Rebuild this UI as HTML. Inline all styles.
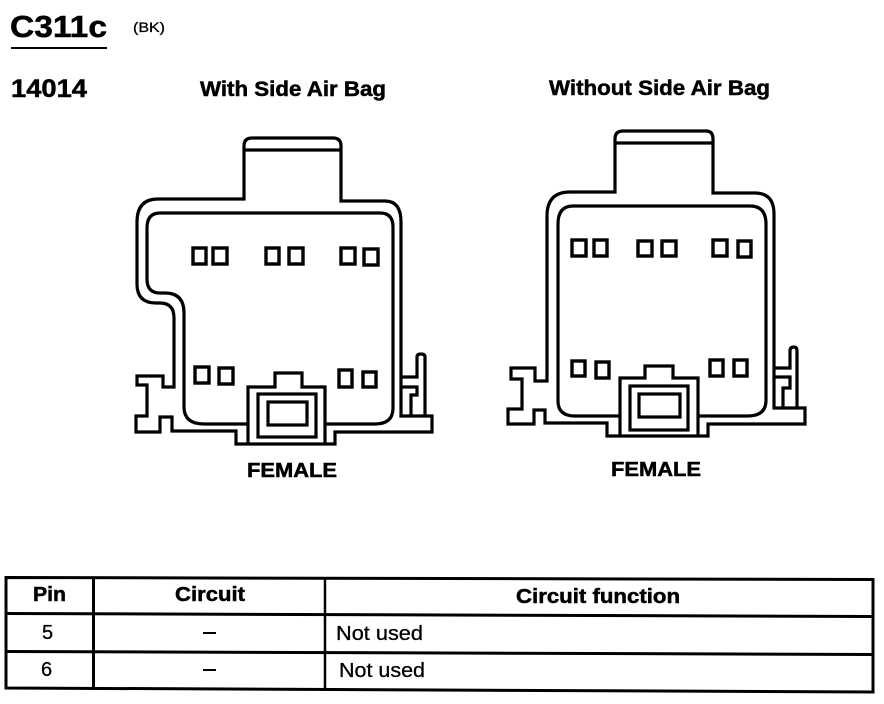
<!DOCTYPE html>
<html><head><meta charset="utf-8"><style>
html,body{margin:0;padding:0;background:#fff;width:884px;height:704px;overflow:hidden}
svg{display:block}
text{font-family:"Liberation Sans",sans-serif;fill:#000;stroke:#000;stroke-width:.3}
.b{font-weight:bold;stroke-width:.5}
.l{fill:none;stroke:#000;stroke-width:3.2}
.p{fill:none;stroke:#000;stroke-width:3.4}
</style></head><body>
<svg width="884" height="704" viewBox="0 0 884 704" xmlns="http://www.w3.org/2000/svg">
<text class="b" x="10" y="37" font-size="31" textLength="97" lengthAdjust="spacingAndGlyphs">C311c</text>
<rect x="11" y="47" width="96" height="2"/>
<text x="133" y="32" font-size="14" textLength="32" lengthAdjust="spacingAndGlyphs">(BK)</text>
<text class="b" x="11" y="97" font-size="25" textLength="76" lengthAdjust="spacingAndGlyphs">14014</text>
<text class="b" x="200" y="96" font-size="21" textLength="186" lengthAdjust="spacingAndGlyphs">With Side Air Bag</text>
<text class="b" x="549" y="95" font-size="21" textLength="221" lengthAdjust="spacingAndGlyphs">Without Side Air Bag</text>

<!-- left connector -->
<path class="l" d="M244 199V146Q244 138 252 138H333Q341 138 341 146V201H385Q401 201 401 222V416H432V432H335V444H236V431H172V417H160V432H136V416H147V385H137V376H163V387H174V318Q174 303 160 303H156Q137 303 137 284V222Q137 199 158 199Z"/>
<path class="l" d="M244 150H341"/>
<path class="l" d="M248 424H204Q184 424 184 407V313Q184 293 165 293H160Q147 293 147 279V228Q147 213 160 213H380Q393 213 393 227V408Q393 424 375 424H325"/>
<path class="l" d="M401 377H417V357Q417 354 421 354Q425 354 425 357V416M401 387H417V395H411V416"/>
<path class="l" d="M248 443V387H275V373H302V387H325V443"/>
<rect class="l" x="258" y="394" width="58" height="43"/>
<rect class="l" x="268" y="402" width="39" height="23"/>
<rect class="p" x="193" y="248" width="13" height="16"/><rect class="p" x="213" y="248" width="14" height="16"/>
<rect class="p" x="266" y="248" width="13" height="16"/><rect class="p" x="289" y="248" width="14" height="16"/>
<rect class="p" x="341" y="248" width="14" height="16"/><rect class="p" x="364" y="249" width="14" height="16"/>
<rect class="p" x="195" y="367" width="14" height="16"/><rect class="p" x="219" y="368" width="14" height="16"/>
<rect class="p" x="339" y="370" width="13" height="17"/><rect class="p" x="363" y="372" width="13" height="15"/>

<!-- right connector -->
<path class="l" d="M615 192V139Q615 131 623 131H706Q713 131 713 139V193H755Q774 193 774 214V408H805V424H708V436H607V423H545V410H534V424H508V409H522V379H511V368H535V381H547V216Q547 192 570 192Z"/>
<path class="l" d="M615 143H713"/>
<path class="l" d="M620 416H575Q558 416 558 401V224Q558 206 573 206H750Q766 206 766 224V400Q766 416 748 416H698"/>
<path class="l" d="M774 368H790V351Q790 347 794 347Q797 347 797 351V408M774 377H790V388H783V408"/>
<path class="l" d="M620 436V378H645V366H673V378H698V436"/>
<rect class="l" x="630" y="386" width="58" height="44"/>
<rect class="l" x="639" y="394" width="41" height="23"/>
<rect class="p" x="572" y="240" width="14" height="16"/><rect class="p" x="594" y="240" width="13" height="16"/>
<rect class="p" x="638" y="241" width="14" height="15"/><rect class="p" x="662" y="241" width="14" height="15"/>
<rect class="p" x="713" y="240" width="14" height="16"/><rect class="p" x="738" y="241" width="13" height="16"/>
<rect class="p" x="572" y="361" width="13" height="15"/><rect class="p" x="596" y="362" width="13" height="16"/>
<rect class="p" x="710" y="360" width="13" height="16"/><rect class="p" x="734" y="360" width="13" height="16"/>

<text class="b" x="247" y="477" font-size="20" textLength="90" lengthAdjust="spacingAndGlyphs">FEMALE</text>
<text class="b" x="611" y="476" font-size="20" textLength="90" lengthAdjust="spacingAndGlyphs">FEMALE</text>

<!-- table -->
<g fill="none" stroke="#000" stroke-width="3">
<path d="M6 577.5L873 579.5V692L6 688Z"/>
<path d="M6 613.5L873 616.5"/>
<path d="M6 651.5L873 654.5"/>
<path d="M93.500 577V689"/>
<path d="M325 578V690" stroke-width="2.500"/>
</g>
<text class="b" x="33" y="601" font-size="20" textLength="33" lengthAdjust="spacingAndGlyphs">Pin</text>
<text class="b" x="175" y="601" font-size="20" textLength="70" lengthAdjust="spacingAndGlyphs">Circuit</text>
<text class="b" x="516" y="603" font-size="20" textLength="164" lengthAdjust="spacingAndGlyphs">Circuit function</text>
<text x="42" y="639" font-size="20">5</text>
<text x="41" y="676" font-size="20">6</text>
<rect x="203" y="632" width="13" height="2"/>
<rect x="203" y="669" width="13" height="2"/>
<text x="336" y="640" font-size="20" textLength="87" lengthAdjust="spacingAndGlyphs">Not used</text>
<text x="339" y="677" font-size="20" textLength="86" lengthAdjust="spacingAndGlyphs">Not used</text>
</svg>
</body></html>
